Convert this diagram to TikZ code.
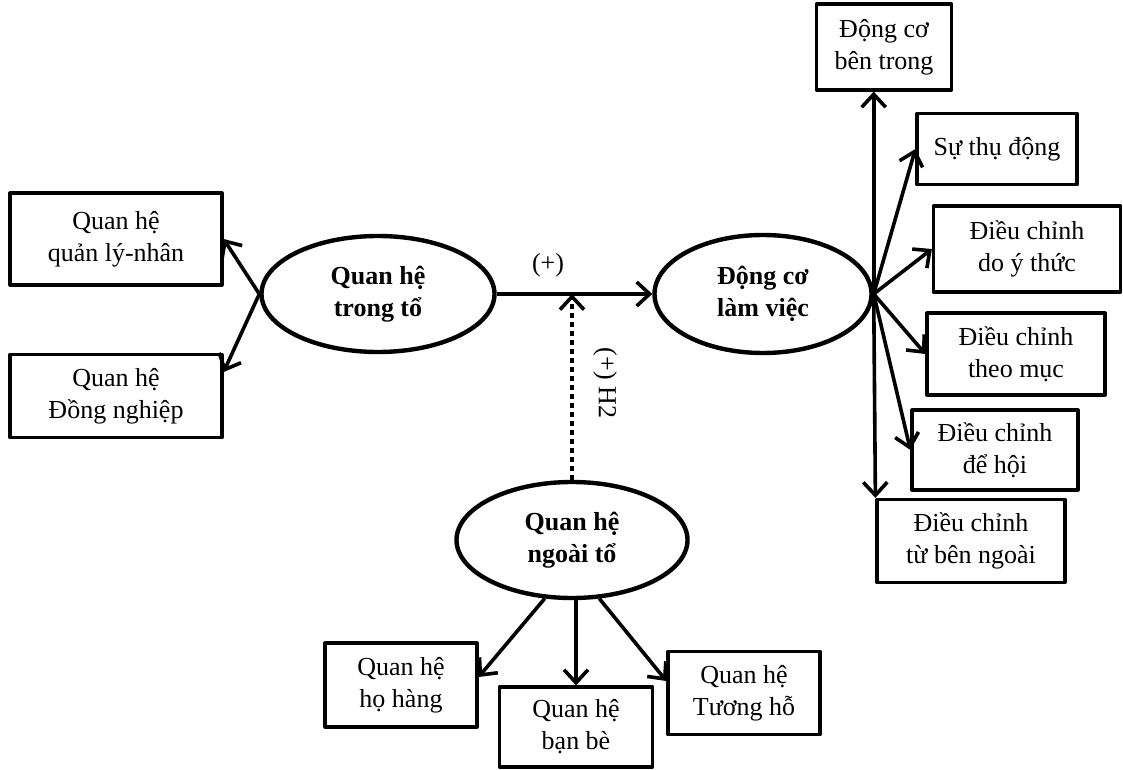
\documentclass[tikz,border=0pt]{standalone}
\usepackage{fontspec}
\setmainfont{Liberation Serif}
\usetikzlibrary{arrows.meta,positioning,calc,shapes.geometric}

\begin{document}
\begin{tikzpicture}[x=0.5pt,y=-0.5pt, line join=round,
  box/.style={draw,line width=1.6pt,align=center,inner sep=0pt,font=\fontsize{13}{16}\selectfont},
  oval/.style={draw,ellipse,line width=2.2pt,align=center,inner sep=0pt,font=\bfseries\fontsize{13}{16}\selectfont},
  arr/.style={line width=1.8pt,-{Straight Barb[length=6.5pt,width=12pt]}}]
\useasboundingbox (0,0) rectangle (1123,770);
% latent variables
\node[oval,minimum width=116.5pt,minimum height=58pt] (tt) at (378,294) {Quan hệ\\trong tổ};
\node[oval,minimum width=108.5pt,minimum height=59pt] (lv) at (763,294) {Động cơ\\làm việc};
\node[oval,minimum width=115.5pt,minimum height=58pt] (nt) at (572,540) {Quan hệ\\ngoài tổ};
% left boxes
\node[box,minimum width=106pt,minimum height=46pt]   (ql) at (116,239) {Quan hệ\\quản lý-nhân};
\node[box,minimum width=106pt,minimum height=41.5pt] (dn) at (116,396) {Quan hệ\\Đồng nghiệp};
% right boxes
\node[box,minimum width=67.5pt,minimum height=43pt]  (bt)    at (884,47)   {Động cơ\\bên trong};
\node[box,minimum width=80pt,minimum height=35.5pt]  (td)    at (997,149)  {Sự thụ động};
\node[box,minimum width=93.5pt,minimum height=43pt]  (ythuc) at (1027,249) {Điều chỉnh\\do ý thức};
\node[box,minimum width=89pt,minimum height=41pt]    (muc)   at (1016,354) {Điều chỉnh\\theo mục};
\node[box,minimum width=83pt,minimum height=40pt]    (hoi)   at (995,450)  {Điều chỉnh\\để hội};
\node[box,minimum width=94pt,minimum height=41.5pt]  (ngoai) at (971,541)  {Điều chỉnh\\từ bên ngoài};
% bottom boxes
\node[box,minimum width=76pt,minimum height=42pt]    (hh) at (401,685) {Quan hệ\\họ hàng};
\node[box,minimum width=76.5pt,minimum height=40pt]  (bb) at (576,727) {Quan hệ\\bạn bè};
\node[box,minimum width=76pt,minimum height=41.5pt]  (th) at (744,693) {Quan hệ\\Tương hỗ};
% connectors
\draw[arr] (tt.west) -- (ql.east);
\draw[arr] (tt.west) -- ([yshift=12pt]dn.east);
\draw[arr] (tt.east) -- node[above=4pt,pos=0.33,font=\fontsize{13}{16}\selectfont] {(+)} (lv.west);
\coordinate (mod) at (nt.north |- tt.east);
\draw[arr,dash pattern=on 2.5pt off 2pt] (nt.north) -- (mod);
\node[rotate=-90,font=\fontsize{13}{16}\selectfont] (h2) at (605,383) {(+) H2};
\draw[arr] (lv.east) -- (lv.east |- bt.south);
\draw[arr] (lv.east) -- (td.west);
\draw[arr] (lv.east) -- (ythuc.west);
\draw[arr] (lv.east) -- (muc.west);
\draw[arr] (lv.east) -- (hoi.west);
\draw[arr] (lv.east) -- (ngoai.north west);
\draw[arr] (nt.-115) -- ([yshift=4pt]hh.east);
\draw[arr] (bb.north |- nt.south) -- (bb.north);
\draw[arr] (nt.-65) -- ([yshift=6pt]th.west);
\end{tikzpicture}
\end{document}
